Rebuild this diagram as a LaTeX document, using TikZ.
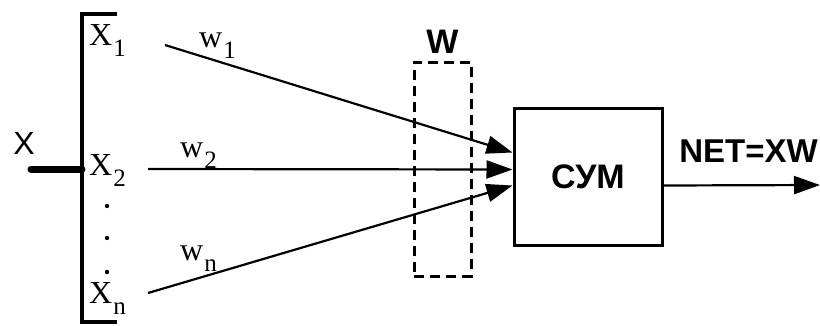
\documentclass[tikz,border=0pt]{standalone}
\usepackage{fontspec}
\setmainfont{Liberation Serif}
\setsansfont{Liberation Sans}
\usetikzlibrary{arrows.meta,positioning}

\tikzset{
  inlbl/.style={inner sep=0pt,anchor=base west,font=\fontsize{32}{32}\selectfont},
  hdlbl/.style={inner sep=0pt,font=\sffamily\bfseries\fontsize{34}{34}\selectfont},
  link/.style={line width=2.2pt,-{Triangle[length=26pt,width=18pt]}},
  frame/.style={line width=3pt},
}
\newcommand{\idx}[1]{\kern1pt\raisebox{-0.36em}{\fontsize{25}{25}\selectfont #1}}

\begin{document}
\begin{tikzpicture}[x=1pt,y=-1pt]
  \useasboundingbox (0,0) rectangle (820,325);
  % input vector
  \draw[line width=3.4pt] (117,14) -- (82,14) -- (82,322) -- (117,322);
  \coordinate (xin) at (31,169);
  \coordinate (xjoin) at (82,169);
  \draw[line width=7pt,line cap=round] (xin) -- (xjoin);
  \node[inner sep=0pt,anchor=base,font=\sffamily\fontsize{32}{32}\selectfont] (xlbl) at (24,154) {X};
  \node[inlbl] (x1) at (89,45) {X\idx{1}};
  \node[inlbl] (x2) at (89,175) {X\idx{2}};
  \node[inlbl] (xn) at (89,303) {X\idx{n}};
  \foreach \y in {206,238,272}
    \fill (107,\y) circle (2.2pt);
  % summator
  \node[draw,frame,minimum width=148pt,minimum height=137pt,hdlbl] (sum) at (588,176.5) {СУМ};
  \node[draw,frame,dash pattern=on 10pt off 6pt,minimum width=57pt,minimum height=214pt] (wbox) at (442.5,169) {};
  \node[hdlbl,above=7pt of wbox] (wlab) {W};
  % weighted inputs
  \coordinate (s1) at (165,45);
  \coordinate (s2) at (148,169);
  \coordinate (sn) at (148,293);
  \draw[link] (s1) -- ([yshift=24pt]sum.west);
  \draw[link] (s2) -- ([yshift=7pt]sum.west);
  \draw[link] (sn) -- ([yshift=-9pt]sum.west);
  \node[inlbl] (w1) at (199,47) {w\idx{1}};
  \node[inlbl] (w2) at (180,157) {w\idx{2}};
  \node[inlbl] (wn) at (180,260) {w\idx{n}};
  % output
  \coordinate (out) at (820,185);
  \draw[link] ([yshift=-9pt]sum.east) -- (out);
  \node[hdlbl,anchor=base east,font=\sffamily\bfseries\fontsize{33}{33}\selectfont] (net) at (818,162) {NET=XW};
\end{tikzpicture}
\end{document}
